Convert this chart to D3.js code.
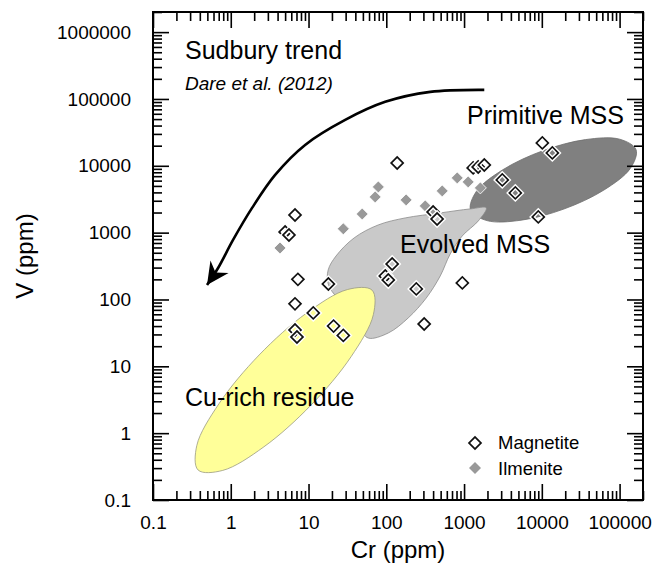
<!DOCTYPE html>
<html><head><meta charset="utf-8">
<script src="https://cdn.jsdelivr.net/npm/d3@7"></script>
<style>
body{margin:0;background:#fff;}
svg{display:block;font-family:"Liberation Sans",Arial,Helvetica,sans-serif;}
</style>
</head><body>
<svg id="chart" width="662" height="572"></svg>
<script>
// ---------------- data ----------------
const magnetiteCr = [6.7, 5.0, 5.6, 7.3, 18, 6.7, 11.5, 6.7, 7.1, 21, 28, 119, 97, 106, 243, 307, 950, 138, 1310, 1520, 1820, 3100, 4560, 10150, 13650, 9000, 400, 450];
const magnetiteV  = [1840, 1020, 920, 200, 170, 86, 63, 35, 27.5, 40, 29, 340, 225, 196, 144, 43, 177, 11000, 9300, 9600, 10300, 6150, 3930, 22000, 15600, 1720, 2040, 1600];

const ilmeniteCr = [4.3, 28, 49, 72, 79, 180, 317, 413, 524, 817, 1130, 1620];
const ilmeniteV  = [590, 1140, 1900, 3420, 4830, 3090, 2510, 1970, 4210, 6590, 5740, 4670];

// field outlines (Cr, V)
const primitiveCr = [163000, 137400, 62950, 19240, 5420, 1972, 1213, 1439, 3140, 10280, 36480, 100300];
const primitiveV  = [17380, 9140, 4342, 2256, 1535, 1513, 2180, 4140, 8710, 16780, 24670, 25000];

const evolvedCr = [1932, 1524, 948, 664, 494, 326, 191, 106, 58.5, 46.1, 38.6, 24.0, 17.9, 17.9, 22.6, 38.6, 78.7, 175, 494, 1202];
const evolvedV  = [2344, 1496, 893, 480, 225, 105, 52.8, 31.5, 26.5, 37.4, 82.7, 105, 171, 277, 448, 834, 1303, 1660, 1972, 2264];

const cuRichCr = [65.6, 68.2, 35.2, 10.8, 2.67, 0.787, 0.38, 0.366, 0.71, 2.32, 9.34, 31.8];
const cuRichV  = [138, 59.4, 13.9, 2.64, 0.625, 0.277, 0.281, 0.655, 2.79, 14.8, 62.1, 141];

// Sudbury trend arrow (Cr, V)
const arrowCr = [1820, 367, 96.8, 29.6, 9.04, 3.72, 1.88, 1.07, 0.687, 0.495];
const arrowV  = [136800, 127700, 90500, 48600, 20540, 7310, 2344, 778, 296, 165];

const xTickValues = [0.1, 1, 10, 100, 1000, 10000, 100000];
const xTickLabels = ["0.1", "1", "10", "100", "1000", "10000", "100000"];
const yTickValues = [0.1, 1, 10, 100, 1000, 10000, 100000, 1000000];
const yTickLabels = ["0.1", "1", "10", "100", "1000", "10000", "100000", "1000000"];

const legendLabels = ["Magnetite", "Ilmenite"];

// ---------------- layout ----------------
const L = 153, R = 643, T = 12, B = 500;
const svg = d3.select("#chart");
const x = d3.scaleLog().domain([0.1, 200000]).range([L, R]);
const y = d3.scaleLog().domain([0.1, 2000000]).range([B, T]);

function minors(lo, hi) {
  const out = [];
  for (let e = Math.round(Math.log10(lo)); Math.pow(10, e) < hi; e++) {
    for (let k = 2; k <= 9; k++) {
      const v = k * Math.pow(10, e);
      if (v <= hi * 1.0001) out.push(v);
    }
  }
  return out;
}
const xMinor = minors(0.1, 200000);
const yMinor = minors(0.1, 2000000);

const zip = (a, b) => a.map((v, i) => [v, b[i]]);

// ---------------- fields ----------------
const area = d3.line().x(d => x(d[0])).y(d => y(d[1])).curve(d3.curveCatmullRomClosed.alpha(0.5));

svg.append("path").attr("d", area(zip(primitiveCr, primitiveV)))
  .attr("fill", "#808080").attr("stroke", "#6e6e6e").attr("stroke-width", 0.8);
svg.append("path").attr("d", area(zip(evolvedCr, evolvedV)))
  .attr("fill", "#c9c9c9").attr("stroke", "#8a8a8a").attr("stroke-width", 0.8);
svg.append("path").attr("d", area(zip(cuRichCr, cuRichV)))
  .attr("fill", "#ffff99").attr("stroke", "#9a9a80").attr("stroke-width", 0.8);

// ---------------- arrow ----------------
const defs = svg.append("defs");
defs.append("marker").attr("id", "head")
  .attr("markerUnits", "userSpaceOnUse")
  .attr("viewBox", "-24 -14 30 28")
  .attr("refX", 0).attr("refY", 0)
  .attr("markerWidth", 30).attr("markerHeight", 28)
  .attr("orient", "auto")
  .append("path").attr("d", "M0,0 L-22,-11 L-15,0 L-22,11 Z").attr("fill", "#000");

const arrowLine = d3.line().x(d => x(d[0])).y(d => y(d[1])).curve(d3.curveCatmullRom.alpha(0.5));
svg.append("path").attr("d", arrowLine(zip(arrowCr, arrowV)))
  .attr("fill", "none").attr("stroke", "#000").attr("stroke-width", 2.6)
  .attr("stroke-dasharray", null)
  .attr("marker-end", "url(#head)");

// ---------------- points ----------------
const diamond = d3.symbol().type(d3.symbolSquare).size(72);

svg.append("g").selectAll("path").data(zip(ilmeniteCr, ilmeniteV)).join("path")
  .attr("d", diamond)
  .attr("transform", d => `translate(${x(d[0])},${y(d[1])}) rotate(45)`)
  .attr("fill", "#999").attr("stroke", "#fff").attr("stroke-width", 0.8);

const mg = svg.append("g").selectAll("g").data(zip(magnetiteCr, magnetiteV)).join("g")
  .attr("transform", d => `translate(${x(d[0])},${y(d[1])}) rotate(45)`);
mg.append("path").attr("d", diamond).attr("fill", "none").attr("stroke", "#fff").attr("stroke-width", 4.5);
mg.append("path").attr("d", diamond).attr("fill", "none").attr("stroke", "#111").attr("stroke-width", 1.7);

// ---------------- axes ----------------
const tickG = svg.append("g");
function ticks(axisFn, scale, values, size, tx, ty) {
  const g = tickG.append("g").attr("transform", `translate(${tx},${ty})`)
    .call(axisFn(scale).tickValues(values).tickSize(size).tickSizeOuter(0).tickFormat(""));
  g.select(".domain").remove();
  g.selectAll("line").attr("stroke", "#000").attr("stroke-width", 1.6);
}
ticks(d3.axisBottom, x, xTickValues, -16, 0, B);
ticks(d3.axisBottom, x, xMinor, -9, 0, B);
ticks(d3.axisTop, x, xTickValues, -16, 0, T);
ticks(d3.axisTop, x, xMinor, -9, 0, T);
ticks(d3.axisLeft, y, yTickValues, -16, L, 0);
ticks(d3.axisLeft, y, yMinor, -9, L, 0);
ticks(d3.axisRight, y, yTickValues, -16, R, 0);
ticks(d3.axisRight, y, yMinor, -9, R, 0);

const xl = svg.append("g").attr("transform", `translate(0,${B})`)
  .call(d3.axisBottom(x).tickValues(xTickValues).tickSize(0).tickPadding(16)
    .tickFormat((d, i) => xTickLabels[i]));
xl.select(".domain").remove();
xl.selectAll("text").attr("font-size", 19).attr("font-family", "Liberation Sans, Arial, sans-serif").attr("fill", "#000");

const yl = svg.append("g").attr("transform", `translate(${L},0)`)
  .call(d3.axisLeft(y).tickValues(yTickValues).tickSize(0).tickPadding(22)
    .tickFormat((d, i) => yTickLabels[i]));
yl.select(".domain").remove();
yl.selectAll("text").attr("font-size", 19).attr("font-family", "Liberation Sans, Arial, sans-serif").attr("fill", "#000");

svg.append("rect").attr("x", L).attr("y", T).attr("width", R - L).attr("height", B - T)
  .attr("fill", "none").attr("stroke", "#000").attr("stroke-width", 2);

// axis titles
svg.append("text").attr("x", (L + R) / 2).attr("y", 558).attr("text-anchor", "middle")
  .attr("font-size", 24).text("Cr (ppm)");
svg.append("text").attr("transform", `translate(33,${(T + B) / 2}) rotate(-90)`)
  .attr("text-anchor", "middle").attr("font-size", 24).text("V (ppm)");

// annotations
svg.append("text").attr("x", 185).attr("y", 59).attr("font-size", 25).text("Sudbury trend");
svg.append("text").attr("x", 185).attr("y", 90).attr("font-size", 19).attr("font-style", "italic").text("Dare et al. (2012)");
svg.append("text").attr("x", 467).attr("y", 124).attr("font-size", 25).text("Primitive MSS");
svg.append("text").attr("x", 400).attr("y", 253).attr("font-size", 25).text("Evolved MSS");
svg.append("text").attr("x", 185).attr("y", 406).attr("font-size", 25).text("Cu-rich residue");

// legend
const lg = svg.append("g");
lg.append("path").attr("d", diamond).attr("transform", "translate(475,443) rotate(45)")
  .attr("fill", "#fff").attr("stroke", "#111").attr("stroke-width", 1.7);
lg.append("path").attr("d", diamond).attr("transform", "translate(475,468) rotate(45)")
  .attr("fill", "#999");
lg.append("text").attr("x", 498).attr("y", 449).attr("font-size", 18.5).text(legendLabels[0]);
lg.append("text").attr("x", 498).attr("y", 475).attr("font-size", 18.5).text(legendLabels[1]);
</script>
</body></html>
